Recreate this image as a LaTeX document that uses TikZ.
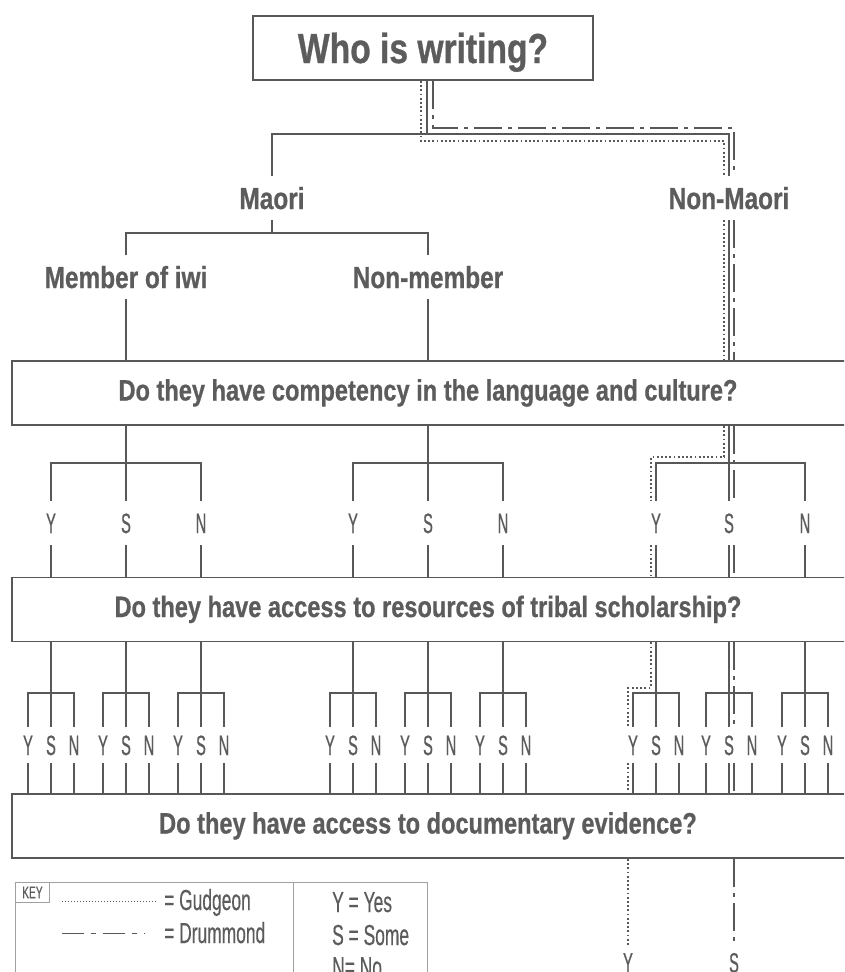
\documentclass[tikz,border=0pt]{standalone}
\usepackage{fontspec}
\setmainfont{Liberation Sans}
\newfontfamily\hfont[FakeStretch=0.8,FakeBold=0.7]{Liberation Sans}
\newfontfamily\lfont[FakeStretch=0.52,FakeBold=0.6]{Liberation Sans}
\newfontfamily\kfont[FakeStretch=0.6,FakeBold=0.4]{Liberation Sans}
\definecolor{ink}{RGB}{88,88,88}
\definecolor{tx}{RGB}{92,92,92}
\definecolor{kl}{RGB}{160,160,160}
\tikzset{
  ln/.style={draw=ink, line width=1.8pt},
  qbox/.style={draw=ink, line width=1.8pt, minimum height=64pt, inner sep=0pt},
  title/.style={text=tx, font=\hfont\bfseries\fontsize{42}{42}\selectfont, text height=30pt, text depth=0pt},
  lab/.style={text=tx, font=\hfont\bfseries\fontsize{30.5}{30}\selectfont, text height=22pt, text depth=0pt, inner sep=11pt},
  qtext/.style={text=tx, font=\hfont\bfseries\fontsize{29.5}{29}\selectfont, text height=21pt, text depth=0pt},
  ysn/.style={text=tx, font=\lfont\fontsize{28}{28}\selectfont, text height=20pt, text depth=0pt, inner xsep=2pt},
  ysnA/.style={ysn, inner ysep=12pt},
  ysnB/.style={ysn, inner ysep=8pt},
  ysnC/.style={ysn, inner ysep=6.5pt},
  gud/.style={draw=ink, line width=1.8pt, dash pattern=on 1.8pt off 2.4pt},
  drum/.style={draw=ink, line width=1.8pt, dash pattern=on 28pt off 6pt on 4pt off 6pt},
  keyl/.style={draw=kl, line width=0.9pt},
  keytext/.style={text=tx, font=\kfont\fontsize{29}{29}\selectfont, inner sep=0pt},
  gudk/.style={draw=ink, line width=1pt, dash pattern=on 1pt off 2pt},
  drumk/.style={draw=ink, line width=1pt, dash pattern=on 22pt off 7pt on 5pt off 7pt},
}
\begin{document}
\begin{tikzpicture}[x=1pt,y=-1pt]
\useasboundingbox (0,0) rectangle (844,972);
\clip (0,0) rectangle (844,972);

% boxes
\node[qbox, title, minimum width=340pt] (top) at (423,48) {Who is writing?};
\node[qbox, minimum width=848pt] (q1) at (436,393) {};
\node[qtext] at (428,390) {Do they have competency in the language and culture?};
\node[qbox, minimum width=848pt] (q2) at (436,609.5) {};
\node[qtext] at (428,606.5) {Do they have access to resources of tribal scholarship?};
\node[qbox, minimum width=848pt] (q3) at (436,826) {};
\node[qtext] at (428,823) {Do they have access to documentary evidence?};

% labels
\node[lab] (maori) at (272,198) {Maori};
\node[lab] (nonmaori) at (729,198) {Non-Maori};
\node[lab] (member) at (126,277) {Member of iwi};
\node[lab] (nonmember) at (428,277) {Non-member};

% top connectors
\coordinate (j0) at (427,134);
\coordinate (j1) at (272,233);
\draw[ln] (top.south -| j0) -- (j0);
\draw[ln] (maori.north) |- (j0) -| (nonmaori.north);
\draw[ln] (maori.south) -- (j1);
\draw[ln] (member.north) |- (j1) -| (nonmember.north);
\draw[ln] (member.south) -- (member.south |- q1.north);
\draw[ln] (nonmember.south) -- (nonmember.south |- q1.north);
\draw[ln] (nonmaori.south) -- (nonmaori.south |- q1.north);

% first Y/S/N row
\foreach \g/\a/\b/\c in {A/51/126/201,B/353/428/503,C/656/729/805}{
  \node[ysnA] (\g y) at (\a,523) {Y};
  \node[ysnA] (\g s) at (\b,523) {S};
  \node[ysnA] (\g n) at (\c,523) {N};
  \draw[ln] (q1.south -| \g s) -- (\g s.north);
  \draw[ln] (\g y.north) |- (\b,463) -| (\g n.north);
  \draw[ln] (\g y.south) -- (\g y.south |- q2.north);
  \draw[ln] (\g s.south) -- (\g s.south |- q2.north);
  \draw[ln] (\g n.south) -- (\g n.south |- q2.north);
}

% second Y/S/N row
\foreach \p/\x in {Ay/51,As/126,An/201,By/353,Bs/428,Bn/503,Cy/656,Cs/729,Cn/805}{
  \node[ysnB] (\p y) at ({\x-23},745) {Y};
  \node[ysnB] (\p s) at (\x,745) {S};
  \node[ysnB] (\p n) at ({\x+23},745) {N};
  \draw[ln] (q2.south -| \p s) -- (\p s.north);
  \draw[ln] (\p y.north) |- (\x,693) -| (\p n.north);
  \draw[ln] (\p y.south) -- (\p y.south |- q3.north);
  \draw[ln] (\p s.south) -- (\p s.south |- q3.north);
  \draw[ln] (\p n.south) -- (\p n.south |- q3.north);
}

% final labels
\node[ysnC] (fy) at (628,962.5) {Y};
\node[ysnC] (fs) at (734,962.5) {S};

% Gudgeon path
\coordinate (g1) at (421,141);
\coordinate (g2) at (724,141);
\coordinate (g3) at (724,457);
\coordinate (g4) at (651,457);
\coordinate (g5) at (651,688);
\coordinate (g6) at (628,688);
\draw[gud] (top.south -| g1) -- (g1) -- (g2) -- (g2 |- nonmaori.north);
\draw[gud] (g2 |- nonmaori.south) -- (g2 |- q1.north);
\draw[gud] (g2 |- q1.south) -- (g3) -- (g4) -- (g4 |- Cy.north);
\draw[gud] (g4 |- Cy.south) -- (g4 |- q2.north);
\draw[gud] (g4 |- q2.south) -- (g5) -- (g6) -- (g6 |- Cyy.north);
\draw[gud] (g6 |- Cyy.south) -- (g6 |- q3.north);
\draw[gud] (g6 |- q3.south) -- (fy.north);

% Drummond path
\coordinate (d1) at (433,128);
\coordinate (d2) at (734,128);
\draw[drum] (top.south -| d1) -- (d1) -- (d2) -- (d2 |- nonmaori.north);
\draw[drum] (d2 |- nonmaori.south) -- (d2 |- q1.north);
\draw[drum] (d2 |- q1.south) -- (d2 |- Cs.north);
\draw[drum] (d2 |- Cs.south) -- (d2 |- q2.north);
\draw[drum] (d2 |- q2.south) -- (d2 |- Css.north);
\draw[drum] (d2 |- Css.south) -- (d2 |- q3.north);
\draw[drum] (d2 |- q3.south) -- (fs.north);

% key
\draw[keyl] (15,882) rectangle (427,1000);
\draw[keyl] (293,882) -- (293,1000);
\node[keyl, draw, anchor=north west, minimum width=34pt, minimum height=20pt, inner sep=0pt, text=tx, font=\kfont\fontsize{17}{17}\selectfont] (key) at (15,882) {KEY};
\coordinate (k1a) at (62,901);
\coordinate (k1b) at (156,901);
\coordinate (k2a) at (62,933);
\coordinate (k2b) at (145,933);
\draw[gudk] (k1a) -- (k1b);
\draw[drumk] (k2a) -- (k2b);
\node[keytext, anchor=base west] at (164,910) {= Gudgeon};
\node[keytext, anchor=base west] at (164,943) {= Drummond};
\node[keytext, anchor=base west] at (332,912) {Y = Yes};
\node[keytext, anchor=base west] at (332,945) {S = Some};
\node[keytext, anchor=base west] at (332,977) {N= No};
\end{tikzpicture}
\end{document}
